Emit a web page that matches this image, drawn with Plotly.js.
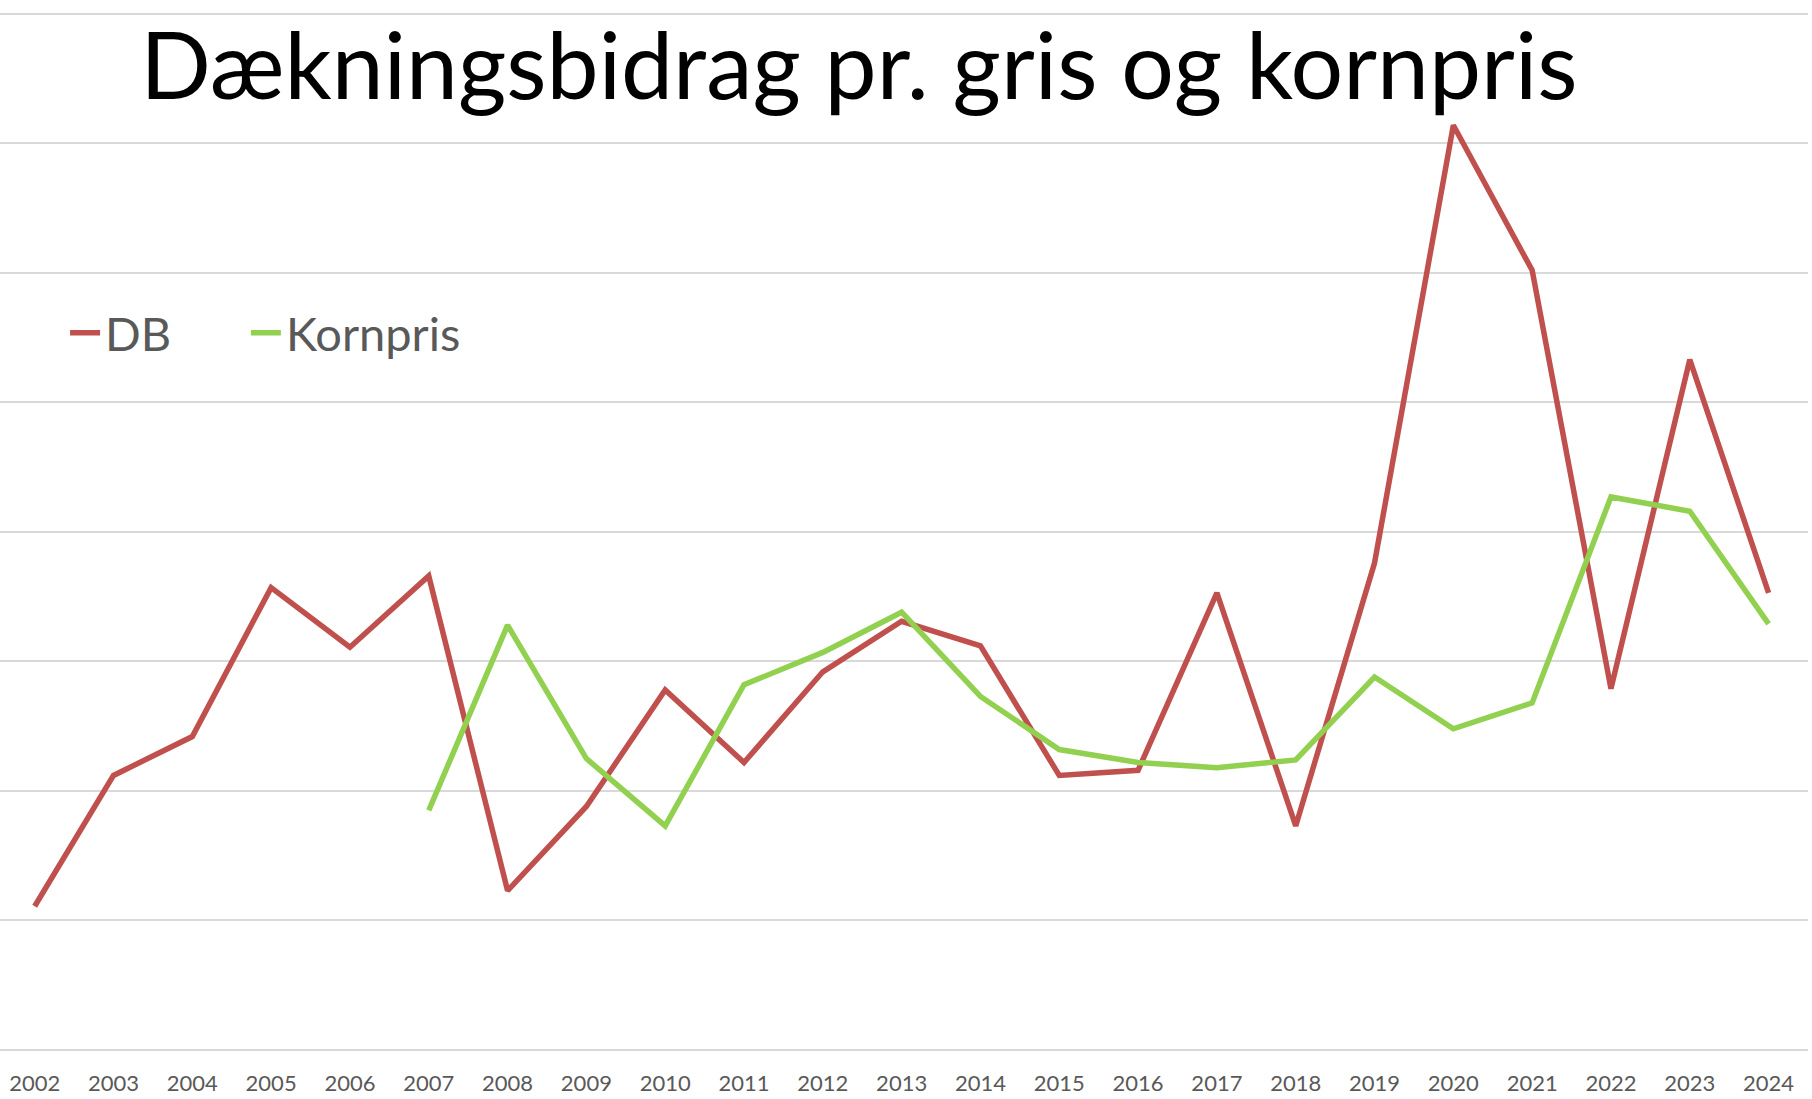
<!DOCTYPE html>
<html>
<head>
<meta charset="utf-8">
<script src="https://cdn.plot.ly/plotly-3.0.1.min.js"></script>
<style>html,body{margin:0;padding:0;background:#fff;}#chart{width:1812px;height:1099px;}</style>
</head>
<body>
<div id="chart"></div>
<script>
var years = ["2002","2003","2004","2005","2006","2007","2008","2009","2010","2011","2012","2013","2014","2015","2016","2017","2018","2019","2020","2021","2022","2023","2024"];
var dbValues = [1.11, 2.12, 2.42, 3.57, 3.11, 3.66, 1.23, 1.88, 2.78, 2.22, 2.92, 3.31, 3.12, 2.12, 2.16, 3.53, 1.73, 3.76, 7.14, 6.02, 2.79, 5.33, 3.53];
var kornYears = ["2007","2008","2009","2010","2011","2012","2013","2014","2015","2016","2017","2018","2019","2020","2021","2022","2023","2024"];
var kornValues = [1.85, 3.28, 2.25, 1.73, 2.82, 3.07, 3.38, 2.73, 2.32, 2.22, 2.18, 2.24, 2.88, 2.48, 2.68, 4.27, 4.16, 3.29];
var titleText = "Dækningsbidrag pr. gris og kornpris";

var FONT = "Lato, 'Open Sans', sans-serif";
var traces = [
  {x: years, y: dbValues, name: "DB", type: "scatter", mode: "lines",
   line: {color: "#C0504D", width: 5.5}, legend: "legend"},
  {x: kornYears, y: kornValues, name: "Kornpris", type: "scatter", mode: "lines",
   line: {color: "#92D050", width: 5.5}, legend: "legend2"}
];
var legendFont = {family: FONT, size: 47, color: "#595959"};
var layout = {
  width: 1812, height: 1099,
  paper_bgcolor: "#ffffff", plot_bgcolor: "#ffffff",
  margin: {l: 0, r: 4, t: 11, b: 49, pad: 0},
  font: {family: FONT, color: "#595959"},
  title: {text: titleText, font: {family: FONT, size: 93, color: "#000000"},
          x: 0.474, xanchor: "center", xref: "container",
          y: 1 - 66/1099, yanchor: "middle", yref: "container"},
  xaxis: {type: "category", categoryorder: "array", categoryarray: years,
          range: [-0.44, 22.5], showgrid: false, zeroline: false, showline: false,
          ticks: "", tickfont: {family: FONT, size: 22, color: "#595959"},
          ticklabelstandoff: 18, fixedrange: true},
  yaxis: {range: [0, 8.022], dtick: 1, tick0: 0, showticklabels: false, ticks: "",
          showgrid: true, gridcolor: "#D9D9D9", gridwidth: 2,
          zeroline: true, zerolinecolor: "#D9D9D9", zerolinewidth: 2,
          showline: false, fixedrange: true},
  showlegend: true,
  legend: {orientation: "h", x: 0.036, xanchor: "left", y: 0.69, yanchor: "middle",
           font: legendFont, bgcolor: "rgba(0,0,0,0)"},
  legend2: {orientation: "h", x: 0.136, xanchor: "left", y: 0.69, yanchor: "middle",
           font: legendFont, bgcolor: "rgba(0,0,0,0)"}
};
Plotly.newPlot("chart", traces, layout, {displayModeBar: false, staticPlot: true});
</script>
</body>
</html>
